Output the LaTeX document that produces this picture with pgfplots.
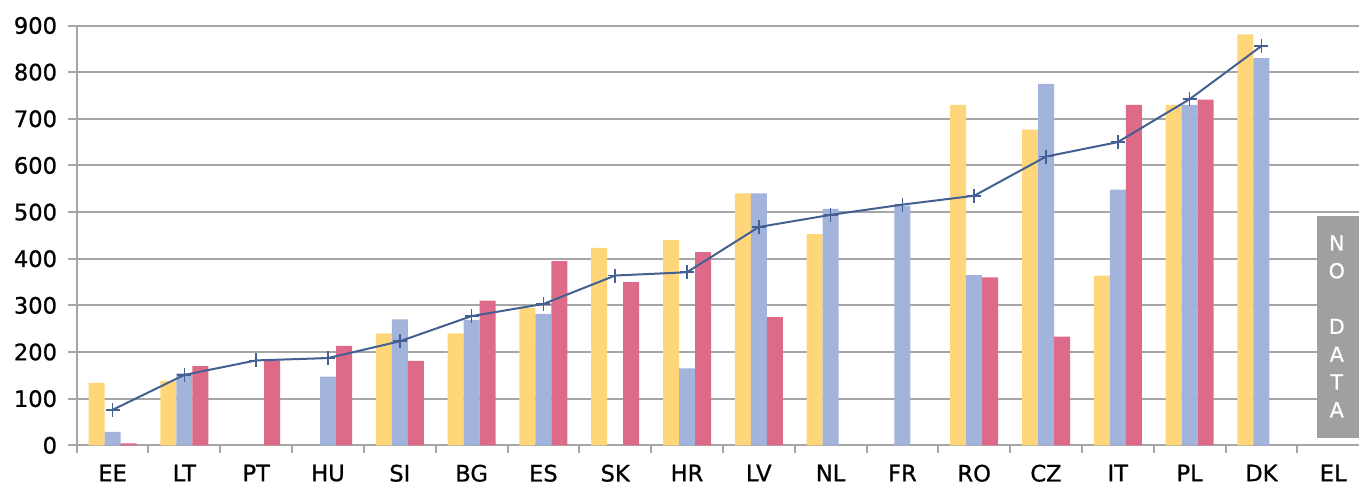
\documentclass[border=0pt]{standalone}
\usepackage{pgfplots}
\pgfplotsset{compat=1.18}
\usepackage{fontspec}
\setmainfont[FakeBold=0.8]{DejaVu Sans}
\newfontfamily\boldish[FakeBold=0.8]{DejaVu Sans}
\definecolor{cYel}{RGB}{255,214,122}
\definecolor{cBlu}{RGB}{162,180,220}
\definecolor{cPnk}{RGB}{222,106,138}
\definecolor{cLin}{RGB}{68,95,145}
\definecolor{cGrd}{RGB}{166,166,166}
\definecolor{cBox}{RGB}{160,160,160}
\begin{document}
\begin{tikzpicture}
\path[use as bounding box] (-38.35pt,-20.35pt) rectangle (641.15pt,222.65pt);
\begin{axis}[
  at={(0,0)}, anchor=south west,
  scale only axis,
  width=646.2pt, height=209.9pt,
  xmin=-0.5, xmax=17.5, ymin=0, ymax=900,
  axis x line*=bottom, axis y line*=left,
  axis line style={cGrd, line width=1pt},
  ytick={0,100,...,900},
  ymajorgrids, major grid style={cGrd, line width=1pt},
  xtick={0,...,17},
  xticklabels={EE,LT,PT,HU,SI,BG,ES,SK,HR,LV,NL,FR,RO,CZ,IT,PL,DK,EL},
  major x tick style={draw=none},
  minor xtick={-0.5,0.5,...,17.5},
  minor x tick style={cGrd, line width=1pt},
  major y tick style={cGrd, line width=1pt},
  tick align=outside,
  major tick length=4.3pt, minor tick length=4pt,
  tick label style={font=\boldish\fontsize{11.3}{13}\selectfont},
  xticklabel style={inner sep=0pt, anchor=north, yshift=-5.2pt},
  yticklabel style={xshift=-2pt},
  /pgf/number format/assume math mode=true,
  clip=false,
]
\addplot[ybar, bar width=8pt, bar shift=-8pt, fill=cYel, draw=none] coordinates {
 (0,134) (1,138) (4,240) (5,240) (6,294) (7,423) (8,440) (9,540) (10,453)
 (12,730) (13,677) (14,364) (15,730) (16,881)};
\addplot[ybar, bar width=8pt, bar shift=0pt, fill=cBlu, draw=none] coordinates {
 (0,29) (1,154) (3,147) (4,270) (5,269) (6,282) (8,165) (9,540) (10,507)
 (11,514) (12,365) (13,775) (14,548) (15,730) (16,830)};
\addplot[ybar, bar width=8pt, bar shift=8pt, fill=cPnk, draw=none] coordinates {
 (0,4) (1,170) (2,182) (3,213) (4,181) (5,310) (6,395) (7,350) (8,414) (9,275)
 (12,360) (13,233) (14,730) (15,741)};
\addplot[cLin, line width=1pt, mark=+, mark size=3.5pt, mark options={line width=0.8pt}] coordinates {
 (0,76) (1,151) (2,182) (3,187) (4,223) (5,277) (6,303) (7,364) (8,371) (9,468)
 (10,494) (11,516) (12,535) (13,619) (14,650) (15,742) (16,856)};
\fill[cBox] (axis cs:16.77,16.3) rectangle (axis cs:17.5,492);
\node[text=white, align=center, font=\boldish\fontsize{10.3}{13.9}\selectfont] at (axis cs:17.05,255) {N\\O\\[13.9pt]D\\A\\T\\A};
\end{axis}
\end{tikzpicture}
\end{document}
